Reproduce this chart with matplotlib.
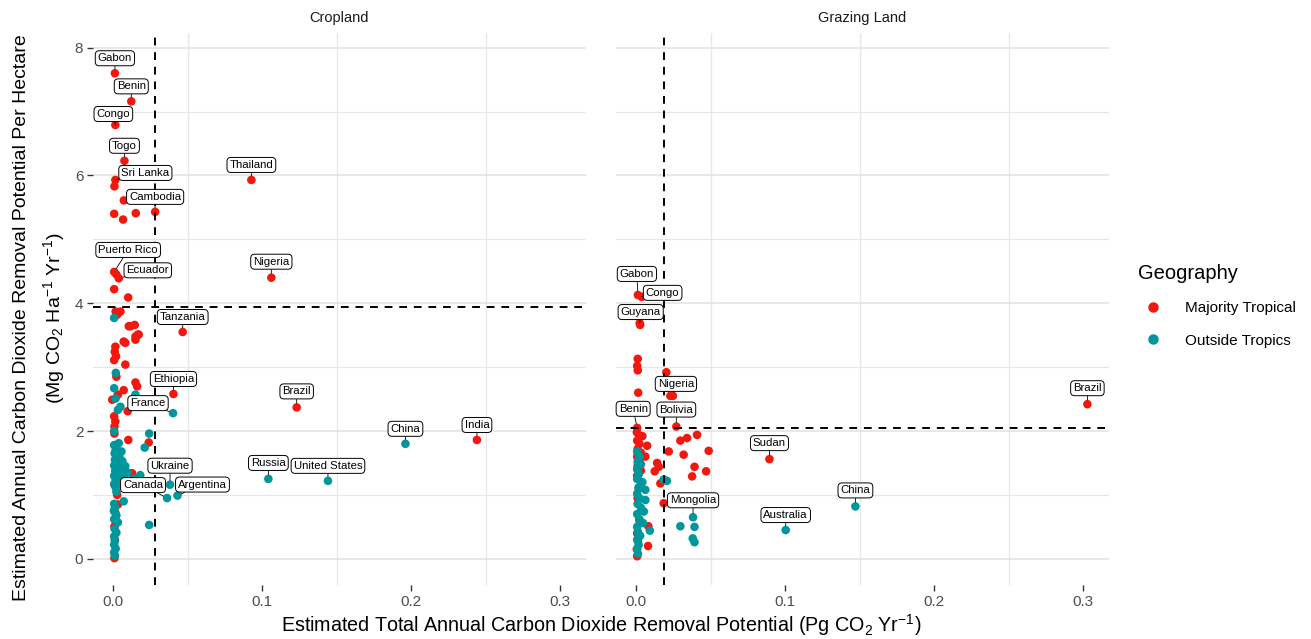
import numpy as np
import matplotlib
matplotlib.use("Agg")
import matplotlib.pyplot as plt
from matplotlib.lines import Line2D

plt.rcParams['font.family'] = ['Liberation Sans', 'DejaVu Sans']
plt.rcParams['mathtext.fontset'] = 'custom'
plt.rcParams['mathtext.rm'] = 'Liberation Sans'
plt.rcParams['mathtext.it'] = 'Liberation Sans:italic'

# ---- data: cropland ----
crop_trop_x = [0.001, 0.012, 0.0013, 0.0074, 0.0013, 0.028, 0.0926, 0.0005, 0.0036, 0.106,
               0.0465, 0.0403, 0.123, 0.244,
               0.0007, 0.007, 0.0005, 0.0065, 0.015, 0.002, 0.0005, 0.0099,
               0.0015, 0.0047, 0.0025, 0.0103, 0.0143, 0.0165, 0.0148, 0.0069, 0.008,
               0.0013, 0.0009, 0.0018, 0.0005, 0.008, 0.002, 0.0148, 0.0159, 0.0069,
               0.003, -0.0008, 0.0096, 0.0005, 0.0013, 0.0007, 0.0007, 0.010, 0.0237,
               0.0125, 0.0007, 0.0025, 0.0013, 0.0013, 0.0007, 0.0007, 0.006, 0.0015,
               0.001, 0.003, 0.0015, 0.0114, 0.0148, 0.017]
crop_trop_y = [7.60, 7.16, 6.79, 6.23, 5.93, 5.43, 5.93, 4.49, 4.39, 4.40,
               3.55, 2.58, 2.37, 1.86,
               5.83, 5.61, 5.40, 5.31, 5.41, 4.45, 4.22, 4.09,
               3.87, 3.87, 3.82, 3.64, 3.66, 3.51, 3.43, 3.40, 3.38,
               3.32, 3.24, 3.17, 3.11, 3.04, 2.85, 2.76, 2.70, 2.64,
               2.57, 2.49, 2.31, 2.23, 2.15, 2.07, 1.96, 1.86, 1.82,
               1.34, 1.16, 1.00, 0.72, 0.61, 0.51, 0.01, 1.45, 1.55,
               0.30, 0.85, 1.70, 3.64, 3.48, 3.51]
crop_trop_names = ["Gabon", "Benin", "Congo", "Togo", "Sri Lanka", "Cambodia", "Thailand",
                   "Puerto Rico", "Ecuador", "Nigeria", "Tanzania", "Ethiopia", "Brazil", "India"]

crop_out_x = [0.040, 0.196, 0.104, 0.144, 0.038, 0.036, 0.043,
              0.024, 0.024, 0.021, 0.0005, 0.0016, 0.0005, 0.0148, 0.0015, 0.0047, 0.003,
              0.0036, 0.0054, 0.018,
              0.0005, 0.002, 0.0008, 0.004, 0.001, 0.006, 0.0025, 0.0005, 0.008, 0.003,
              0.0012, 0.0055, 0.0095, 0.002, 0.0005, 0.004, 0.007, 0.0015, 0.011, 0.003,
              0.0005, 0.006, 0.0015, 0.014, 0.002,
              0.0069, 0.0005, 0.001, 0.0003, 0.002, 0.0005, 0.003, 0.0008, 0.002, 0.0005,
              0.001, 0.0005, 0.0015, 0.0005, 0.001, 0.0005]
crop_out_y = [2.28, 1.80, 1.25, 1.22, 1.16, 0.95, 0.99,
              0.53, 1.96, 1.74, 3.77, 2.91, 2.67, 2.57, 2.51, 2.38, 2.33,
              1.81, 1.68, 1.31,
              1.78, 1.72, 1.65, 1.60, 1.55, 1.53, 1.50, 1.46, 1.45, 1.42,
              1.38, 1.37, 1.35, 1.33, 1.30, 1.28, 1.27, 1.24, 1.22, 1.20,
              1.17, 1.15, 1.12, 1.25, 1.05,
              0.90, 0.86, 0.80, 0.75, 0.68, 0.62, 0.57, 0.47, 0.41, 0.35,
              0.28, 0.22, 0.16, 0.10, 0.05, 2.00]
crop_out_names = ["France", "China", "Russia", "United States", "Ukraine", "Canada", "Argentina"]

# ---- data: grazing land ----
graz_trop_x = [0.001, 0.0035, 0.0022, 0.0245, 0.0268, 0.0005, 0.0893, 0.3027,
               0.0025, 0.0009, 0.0005, 0.0009, 0.0201, 0.0012, 0.0228,
               0.0072, 0.0295, 0.034, 0.0407, 0.0217, 0.0317, 0.0485, 0.006, 0.0139,
               0.015, 0.0123, 0.039, 0.0468, 0.0374, 0.0161, 0.0183, 0.0078, 0.008, 0.0005,
               0.0003, 0.0018, 0.004, 0.0005, 0.002, 0.0008, 0.003, 0.0005, 0.002,
               0.0008, 0.003, 0.0005, 0.0015, 0.0008, 0.002, 0.0005, 0.001, 0.0003]
graz_trop_y = [4.13, 4.10, 3.69, 2.55, 2.07, 2.05, 1.56, 2.42,
               3.66, 3.13, 3.02, 2.95, 2.92, 2.60, 2.55,
               1.77, 1.85, 1.89, 1.94, 1.68, 1.63, 1.69, 1.60, 1.50,
               1.44, 1.37, 1.44, 1.37, 1.29, 1.18, 0.87, 0.20, 0.51, 0.04,
               1.98, 1.93, 1.92, 1.85, 1.80, 1.72, 1.66, 1.60, 1.52,
               1.45, 1.38, 1.30, 1.10, 0.95, 0.60, 0.40, 0.28, 0.15]
graz_trop_names = ["Gabon", "Congo", "Guyana", "Nigeria", "Bolivia", "Benin", "Sudan", "Brazil"]

graz_out_x = [0.038, 0.1002, 0.147,
              0.0295, 0.039, 0.0378, 0.039, 0.0183, 0.0205, 0.009,
              0.0005, 0.002, 0.0008, 0.003, 0.0005, 0.0015, 0.0005, 0.004, 0.0015,
              0.006, 0.0005, 0.002, 0.006, 0.0008, 0.003, 0.005, 0.0005, 0.002,
              0.0045, 0.0005, 0.001, 0.0025, 0.0005, 0.0015, 0.0005, 0.001]
graz_out_y = [0.65, 0.45, 0.82,
              0.51, 0.50, 0.32, 0.26, 1.24, 1.22, 0.44,
              1.68, 1.60, 1.52, 1.48, 1.40, 1.32, 1.25, 1.20, 1.12,
              1.08, 1.02, 0.95, 0.92, 0.86, 0.80, 0.74, 0.70, 0.62,
              0.56, 0.50, 0.42, 0.36, 0.30, 0.22, 0.15, 0.08]
graz_out_names = ["Mongolia", "Australia", "China"]

crop_vline, crop_hline = 0.0282, 3.94
graz_vline, graz_hline = 0.0188, 2.05

# label offsets in pixels (dx, dy) from each point
crop_trop_off = [(0, 15), (0, 15), (-2, 11), (0, 15), (30, 7), (0, 15), (0, 15),
                 (14, 22), (29, 8), (0, 16), (0, 15), (0, 15), (0, 16), (0, 15)]
crop_out_off = [(-25, 10), (0, 15), (0, 16), (0, 15), (0, 19), (-24, 13), (25, 11)]
graz_trop_off = [(-1, 21), (21, 4), (1, 11), (3, 12), (0, 17), (-4, 19), (0, 16), (0, 16)]
graz_out_off = [(0, 17), (0, 15), (0, 16)]

RED = '#F2180E'
TEAL = '#00979C'
GRID = '#E6E6E6'

fig = plt.figure(figsize=(13.11, 6.39), dpi=100)
W, H = 1311, 639
ax1 = fig.add_axes([93 / W, 54 / H, 493 / W, 552 / H])
ax2 = fig.add_axes([616 / W, 54 / H, 493 / W, 552 / H])


def label_points(ax, xs, ys, names, offs):
    for i, name in enumerate(names):
        ax.annotate(name, (xs[i], ys[i]), xytext=offs[i], textcoords='offset pixels',
                    ha='center', va='center', fontsize=8.2, zorder=5,
                    bbox=dict(boxstyle='round,pad=0.22,rounding_size=0.35', fc='white',
                              ec='black', lw=0.7),
                    arrowprops=dict(arrowstyle='-', lw=0.6, color='black',
                                    shrinkA=0, shrinkB=3))


panels = [
    (ax1, "Cropland", crop_trop_x, crop_trop_y, crop_trop_names, crop_trop_off,
     crop_out_x, crop_out_y, crop_out_names, crop_out_off, crop_vline, crop_hline),
    (ax2, "Grazing Land", graz_trop_x, graz_trop_y, graz_trop_names, graz_trop_off,
     graz_out_x, graz_out_y, graz_out_names, graz_out_off, graz_vline, graz_hline),
]

for (ax, title, tx, ty, tn, toff, ox, oy, on, ooff, vl, hl) in panels:
    ax.set_xlim(-0.0137, 0.3172)
    ax.set_ylim(-0.41, 8.23)
    for s in ax.spines.values():
        s.set_visible(False)
    for yv in [0, 2, 4, 6, 8]:
        ax.axhline(yv, color=GRID, lw=1.3, zorder=0)
    for yv in [1, 3, 5, 7]:
        ax.axhline(yv, color=GRID, lw=0.8, zorder=0)
    for xv in [0.05, 0.15, 0.25]:
        ax.axvline(xv, color=GRID, lw=0.9, zorder=0)
    ax.scatter(tx, ty, s=38, color=RED, edgecolors='none', zorder=2)
    ax.scatter(ox, oy, s=38, color=TEAL, edgecolors='none', zorder=3)
    ax.axvline(vl, color='black', lw=1.4, ls=(0, (4, 3.5)), zorder=4)
    ax.axhline(hl, color='black', lw=1.4, ls=(0, (4, 3.5)), zorder=4)
    label_points(ax, tx, ty, tn, toff)
    label_points(ax, ox, oy, on, ooff)
    ax.set_xticks([0.0, 0.1, 0.2, 0.3])
    ax.set_xticklabels(['0.0', '0.1', '0.2', '0.3'])
    ax.set_yticks([0, 2, 4, 6, 8])
    ax.tick_params(axis='both', colors='#333333', labelcolor='#4D4D4D', labelsize=11,
                   length=4, width=1, pad=3)
    ax.set_title(title, fontsize=10.5, color='#1A1A1A', pad=8)

ax2.tick_params(axis='y', left=False, labelleft=False)

fig.text(601 / W, 1 - 625 / H,
         'Estimated Total Annual Carbon Dioxide Removal Potential (Pg CO$_2$ Yr$^{-1}$)',
         ha='center', va='center', fontsize=14.2)
fig.text(40 / W, 1 - 318 / H,
         'Estimated Annual Carbon Dioxide Removal Potential Per Hectare\n'
         '(Mg CO$_2$ Ha$^{-1}$ Yr$^{-1}$)',
         ha='center', va='center', rotation=90, fontsize=14, multialignment='center',
         linespacing=1.55)

handles = [Line2D([], [], marker='o', ls='', color=RED, markersize=6.5),
           Line2D([], [], marker='o', ls='', color=TEAL, markersize=6.5)]
leg = fig.legend(handles, ['Majority Tropical', 'Outside Tropics'], title='Geography',
                 loc='upper left', bbox_to_anchor=(1132 / W, 1 - 258 / H), frameon=False,
                 fontsize=11, title_fontsize=14.5, handletextpad=1.1, labelspacing=1.2,
                 borderaxespad=0)
leg._legend_box.align = 'left'

fig.savefig('out.png', dpi=100)
